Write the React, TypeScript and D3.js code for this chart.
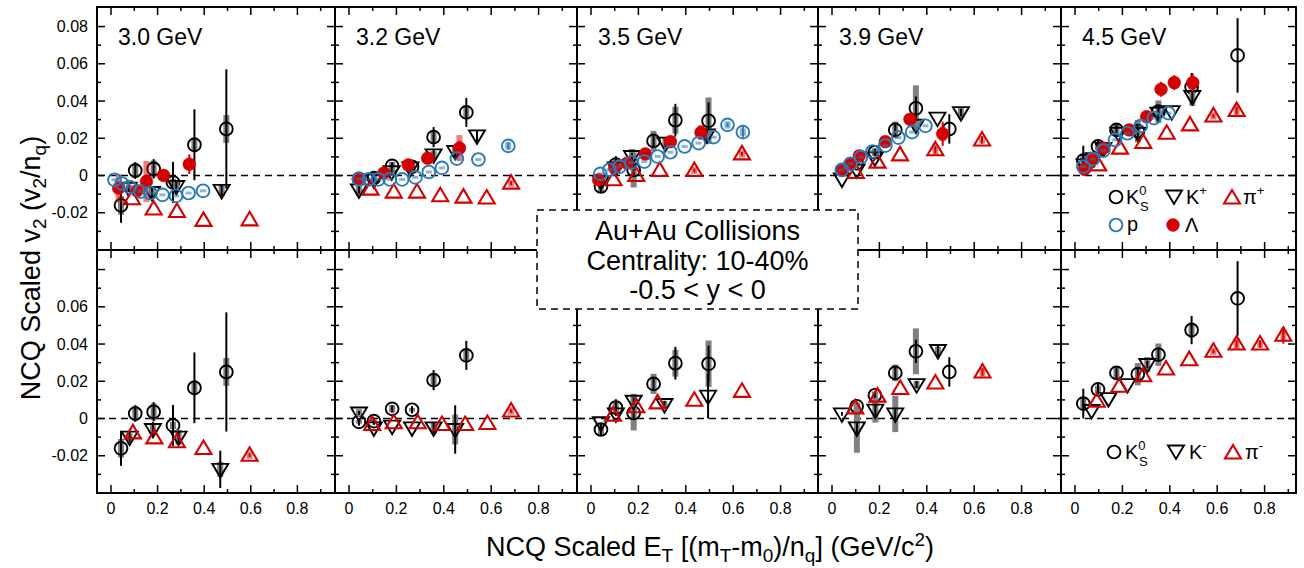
import React from 'react';
import * as d3 from 'd3';

type Pt = number[]; // [x, y, stat?, sys?]

const energies = ['3.0 GeV', '3.2 GeV', '3.5 GeV', '3.9 GeV', '4.5 GeV'];
const xTickLabels = [0, 0.2, 0.4, 0.6, 0.8];
const yTickLabelsTop = [-0.02, 0, 0.02, 0.04, 0.06, 0.08];
const yTickLabelsBottom = [-0.02, 0, 0.02, 0.04, 0.06];
const boxLines = ['Au+Au Collisions', 'Centrality: 10-40%', '-0.5 < y < 0'];

// ---- 3.0 GeV ----
const ks_30: Pt[] = [[0.043, -0.016, 0.0094, 0.005], [0.104, 0.0027, 0.0045, 0.004], [0.183, 0.0036, 0.0052, 0.0045], [0.266, -0.0037, 0.011, 0.002], [0.358, 0.0165, 0.019, 0.004], [0.495, 0.025, 0.032, 0.0075]];
const kp_30: Pt[] = [[0.076, -0.0068, 0.002, 0.002], [0.176, -0.0091, 0.003, 0.003], [0.28, -0.0059, 0.003, 0.003], [0.475, -0.008, 0.003, 0.003]];
const pip_30: Pt[] = [[0.09, -0.0125], [0.183, -0.018], [0.283, -0.0193], [0.397, -0.0241], [0.595, -0.0238]];
const lam_30: Pt[] = [[0.033, -0.0068, 0.002, 0.0075], [0.112, -0.0082, 0.002, 0.002], [0.152, -0.0032, 0.002, 0.011], [0.226, 0.0, 0.002, 0.002], [0.336, 0.0061, 0.0053, 0.002]];
const p_30: Pt[] = [[0.015, -0.0023], [0.047, -0.0043], [0.08, -0.0062], [0.126, -0.0086], [0.169, -0.0094], [0.221, -0.0104], [0.279, -0.0109], [0.333, -0.0094], [0.395, -0.0082]];
const km_30: Pt[] = [[0.08, -0.01, 0.003, 0.002], [0.18, -0.0059, 0.004, 0.003], [0.29, -0.01, 0.003, 0.004], [0.469, -0.0273, 0.01, 0.004]];
const pim_30: Pt[] = [[0.094, -0.0077], [0.186, -0.0104], [0.283, -0.0125], [0.397, -0.0161], [0.595, -0.0197, 0.001, 0.002]];

// ---- 3.2 GeV ----
const ks_32: Pt[] = [[0.042, -0.0018, 0.002, 0.001], [0.105, -0.0014, 0.002, 0.001], [0.182, 0.0052, 0.002, 0.002], [0.266, 0.0047, 0.002, 0.001], [0.357, 0.0206, 0.0054, 0.003], [0.495, 0.0339, 0.0078, 0.0036]];
const kp_32: Pt[] = [[0.042, -0.0077, 0.002, 0.003], [0.105, -0.0023, 0.002, 0.002], [0.18, 0.002, 0.002, 0.002], [0.259, 0.004, 0.002, 0.003], [0.357, 0.0111, 0.003, 0.002], [0.448, 0.0129, 0.004, 0.003], [0.54, 0.0213, 0.003, 0.0]];
const pip_32: Pt[] = [[0.091, -0.0073], [0.189, -0.0089], [0.287, -0.0089], [0.385, -0.0109], [0.483, -0.0116], [0.581, -0.0121], [0.684, -0.0041, 0.001, 0.002]];
const lam_32: Pt[] = [[0.046, -0.002], [0.147, 0.0013], [0.25, 0.0057], [0.332, 0.0093], [0.466, 0.0147, 0.004, 0.007]];
const p_32: Pt[] = [[0.042, -0.0019], [0.084, -0.0021], [0.124, -0.0021], [0.172, -0.0021], [0.224, -0.0021], [0.28, -0.001], [0.337, 0.0019], [0.392, 0.0041], [0.455, 0.0091], [0.546, 0.0086], [0.672, 0.0159, 0.002, 0.002]];
const km_32: Pt[] = [[0.042, 0.003, 0.001, 0.002], [0.105, -0.005], [0.182, -0.0041], [0.266, -0.005], [0.357, -0.005, 0.003, 0.003], [0.448, -0.0059, 0.013, 0.008]];
const pim_32: Pt[] = [[0.098, -0.0032], [0.189, -0.0023], [0.29, -0.0023], [0.392, -0.0032], [0.49, -0.0032], [0.584, -0.0027], [0.684, 0.004, 0.001, 0.002]];

// ---- 3.5 GeV ----
const ks_35: Pt[] = [[0.042, -0.0059, 0.003, 0.003], [0.105, 0.0059, 0.0045, 0.003], [0.18, 0.003, 0.003, 0.0094], [0.264, 0.0186, 0.003, 0.0054], [0.356, 0.0297, 0.0088, 0.0072], [0.496, 0.0294, 0.0098, 0.0125]];
const kp_35: Pt[] = [[0.042, -0.0032], [0.105, 0.004], [0.173, 0.0102, 0.002, 0.004], [0.314, 0.0174, 0.002, 0.003], [0.489, 0.0218, 0.003, 0.003]];
const pip_35: Pt[] = [[0.095, -0.0023], [0.191, 0.0], [0.29, 0.0027], [0.436, 0.0027, 0.001, 0.002], [0.637, 0.0116, 0.001, 0.002]];
const lam_35: Pt[] = [[0.032, -0.0023], [0.1, 0.004], [0.152, 0.0066], [0.229, 0.0116], [0.335, 0.0182], [0.464, 0.0231, 0.002, 0.004]];
const p_35: Pt[] = [[0.039, 0.0009], [0.078, 0.0031], [0.121, 0.0048], [0.17, 0.007], [0.225, 0.0075], [0.281, 0.0102], [0.335, 0.0125], [0.395, 0.0156], [0.454, 0.0174], [0.517, 0.0206], [0.576, 0.0272, 0.001, 0.002], [0.641, 0.0233, 0.003, 0.002]];
const km_35: Pt[] = [[0.042, -0.0023], [0.105, 0.0025], [0.18, 0.0093, 0.002, 0.004], [0.31, 0.0075, 0.002, 0.002], [0.494, 0.012, 0.012, 0.0]];
const pim_35: Pt[] = [[0.093, 0.0018], [0.191, 0.0063], [0.281, 0.0084], [0.436, 0.0098], [0.637, 0.0146]];

// ---- 3.9 GeV ----
const ks_39: Pt[] = [[0.104, 0.0066, 0.002, 0.002], [0.181, 0.0125, 0.002, 0.002], [0.267, 0.0245, 0.003, 0.0045], [0.354, 0.0361, 0.0063, 0.0123], [0.495, 0.025, 0.0079, 0.0]];
const kp_39: Pt[] = [[0.042, -0.0019], [0.104, 0.003], [0.181, 0.0095], [0.354, 0.027], [0.445, 0.0308], [0.544, 0.0338, 0.002, 0.003]];
const pip_39: Pt[] = [[0.101, 0.0016], [0.192, 0.0072], [0.287, 0.0111], [0.436, 0.0138, 0.002, 0.003], [0.633, 0.0191, 0.002, 0.002]];
const lam_39: Pt[] = [[0.04, 0.003], [0.08, 0.0063], [0.115, 0.0106], [0.225, 0.0182], [0.329, 0.0302], [0.467, 0.0224, 0.0065, 0.004]];
const p_39: Pt[] = [[0.042, 0.003], [0.078, 0.0063], [0.122, 0.0099], [0.171, 0.0129], [0.225, 0.0161], [0.28, 0.0204], [0.338, 0.0233], [0.394, 0.0267]];
const km_39: Pt[] = [[0.042, 0.0025, 0.001, 0.0], [0.105, -0.005, 0.003, 0.0134], [0.183, 0.0045, 0.003, 0.0067], [0.267, 0.0025, 0.003, 0.0098], [0.357, 0.0182, 0.002, 0.002], [0.447, 0.0365, 0.003, 0.002]];
const pim_39: Pt[] = [[0.098, 0.0057], [0.192, 0.012], [0.288, 0.0161], [0.436, 0.0191], [0.635, 0.025, 0.002, 0.0025]];

// ---- 4.5 GeV ----
const ks_45: Pt[] = [[0.035, 0.008, 0.008, 0.003], [0.097, 0.0156, 0.003, 0.002], [0.175, 0.0245, 0.003, 0.003], [0.265, 0.0238, 0.003, 0.006], [0.352, 0.0343, 0.003, 0.006], [0.492, 0.0475, 0.0076, 0.004], [0.686, 0.0645, 0.02, 0.0]];
const kp_45: Pt[] = [[0.04, 0.0057], [0.08, 0.009], [0.12, 0.0145], [0.183, 0.0227], [0.267, 0.0227], [0.352, 0.0335], [0.408, 0.0343], [0.495, 0.0424, 0.003, 0.005]];
const pip_45: Pt[] = [[0.098, 0.0057], [0.19, 0.0147], [0.288, 0.0177], [0.387, 0.0227], [0.485, 0.0272], [0.584, 0.032, 0.001, 0.002], [0.682, 0.0349, 0.002, 0.003]];
const lam_45: Pt[] = [[0.04, 0.0034], [0.073, 0.0093], [0.12, 0.0147], [0.229, 0.0245], [0.302, 0.0316], [0.363, 0.0463, 0.004, 0.003], [0.419, 0.0499, 0.004, 0.003], [0.497, 0.0499, 0.005, 0.003]];
const p_45: Pt[] = [[0.035, 0.0048], [0.075, 0.0088], [0.12, 0.0134], [0.169, 0.0191], [0.221, 0.0227], [0.277, 0.0266], [0.333, 0.0308], [0.394, 0.0335]];
const km_45: Pt[] = [[0.07, 0.0043], [0.141, 0.0107], [0.221, 0.0182], [0.305, 0.029, 0.002, 0.004]];
const pim_45: Pt[] = [[0.092, 0.0093], [0.187, 0.0173], [0.288, 0.023], [0.384, 0.0266], [0.482, 0.0316], [0.584, 0.0361, 0.001, 0.002], [0.682, 0.04, 0.002, 0.003], [0.781, 0.04, 0.002, 0.002], [0.879, 0.0447, 0.0045, 0.003]];

const ksAll = [ks_30, ks_32, ks_35, ks_39, ks_45];
const kpAll = [kp_30, kp_32, kp_35, kp_39, kp_45];
const pipAll = [pip_30, pip_32, pip_35, pip_39, pip_45];
const lamAll = [lam_30, lam_32, lam_35, lam_39, lam_45];
const pAll = [p_30, p_32, p_35, p_39, p_45];
const kmAll = [km_30, km_32, km_35, km_39, km_45];
const pimAll = [pim_30, pim_32, pim_35, pim_39, pim_45];

// ---- layout (not data) ----
const panelL = [97, 335, 577, 818, 1061];
const panelR = [335, 577, 818, 1061, 1296];
const pxPerUnit = [233, 237, 237, 237, 237];
const rowTop = [7, 250];
const rowBot = [250, 493];
const Y_DOMAIN = [-0.04, 0.0905];

const RED = '#d40000';
const BLUE = '#2a7ab8';
const GRAY = '#808080';
const FONT = '"Liberation Sans", Arial, Helvetica, sans-serif';

type Kind = 'ks' | 'kd' | 'pi' | 'lam' | 'p';
const defaultSys: Record<Kind, number> = { ks: 0.0012, kd: 0, pi: 0, lam: 0, p: 0.0008 };
const defaultStat: Record<Kind, number> = { ks: 0.001, kd: 0, pi: 0, lam: 0, p: 0 };

function Marker({ kind, x, y }: { kind: Kind; x: number; y: number }) {
  if (kind === 'ks') return <circle cx={x} cy={y} r={6.4} fill="none" stroke="#000" strokeWidth={1.9} />;
  if (kind === 'p') return <circle cx={x} cy={y} r={6.4} fill="none" stroke={BLUE} strokeWidth={1.9} />;
  if (kind === 'lam') return <circle cx={x} cy={y} r={6.4} fill={RED} stroke={RED} strokeWidth={0.5} />;
  if (kind === 'kd')
    return <path d={`M${x - 8},${y - 5.5}L${x + 8},${y - 5.5}L${x},${y + 8}Z`} fill="none" stroke="#000" strokeWidth={1.9} strokeLinejoin="miter" />;
  return <path d={`M${x - 8},${y + 5.5}L${x + 8},${y + 5.5}L${x},${y - 8}Z`} fill="none" stroke={RED} strokeWidth={2.1} strokeLinejoin="miter" />;
}

function Series({ data, kind, xs, ys }: { data: Pt[]; kind: Kind; xs: d3.ScaleLinear<number, number>; ys: d3.ScaleLinear<number, number> }) {
  const sysFill = kind === 'ks' || kind === 'kd' ? GRAY : kind === 'p' ? 'rgba(42,122,184,0.55)' : 'rgba(212,0,0,0.5)';
  const statColor = kind === 'ks' || kind === 'kd' ? '#000' : kind === 'p' ? BLUE : RED;
  return (
    <g>
      {data.map((d, i) => {
        const x = xs(d[0]);
        const y = ys(d[1]);
        const stat = d[2] ?? defaultStat[kind];
        const sys = d[3] ?? defaultSys[kind];
        return (
          <g key={i}>
            {sys > 0 && <rect x={x - 3} y={ys(d[1] + sys)} width={6} height={ys(d[1] - sys) - ys(d[1] + sys)} fill={sysFill} />}
            {stat > 0 && <line x1={x} x2={x} y1={ys(d[1] + stat)} y2={ys(d[1] - stat)} stroke={statColor} strokeWidth={2} />}
            <Marker kind={kind} x={x} y={y} />
          </g>
        );
      })}
    </g>
  );
}

function Frame({ L, R, T, B, xs, ys }: any) {
  const ticks: JSX.Element[] = [];
  const xt = d3.range(0, 0.96, 0.1).filter((v) => xs(v) < R - 1);
  xt.forEach((v, i) => {
    const major = i % 2 === 0;
    const len = major ? 8 : 4;
    const x = xs(v);
    ticks.push(<line key={'xb' + i} x1={x} x2={x} y1={B} y2={B - len} stroke="#000" strokeWidth={1.5} />);
    ticks.push(<line key={'xt' + i} x1={x} x2={x} y1={T} y2={T + len} stroke="#000" strokeWidth={1.5} />);
  });
  const yt = d3.range(-3, 10).map((k) => k * 0.01).filter((v) => ys(v) < B - 1 && ys(v) > T + 1);
  yt.forEach((v, i) => {
    const major = Math.round(v * 100) % 2 === 0;
    const len = major ? 8 : 4;
    const y = ys(v);
    ticks.push(<line key={'yl' + i} x1={L} x2={L + len} y1={y} y2={y} stroke="#000" strokeWidth={1.5} />);
    ticks.push(<line key={'yr' + i} x1={R} x2={R - len} y1={y} y2={y} stroke="#000" strokeWidth={1.5} />);
  });
  return (
    <g>
      <line x1={L} x2={R} y1={ys(0)} y2={ys(0)} stroke="#000" strokeWidth={1.5} strokeDasharray="7,5" />
      {ticks}
    </g>
  );
}

export default function App() {
  const panels: JSX.Element[] = [];
  const borders: JSX.Element[] = [];
  for (let row = 0; row < 2; row++) {
    for (let c = 0; c < 5; c++) {
      const L = panelL[c];
      const R = panelR[c];
      const w = R - L;
      const k = pxPerUnit[c];
      const T = rowTop[row];
      const B = rowBot[row];
      const xs = d3.scaleLinear().domain([-14 / k, (w - 14) / k]).range([L, R]);
      const ys = d3.scaleLinear().domain(Y_DOMAIN).range([B, T]);
      panels.push(
        <g key={`p${row}${c}`}>
          <Frame L={L} R={R} T={T} B={B} xs={xs} ys={ys} />
          <Series data={ksAll[c]} kind="ks" xs={xs} ys={ys} />
          <Series data={row === 0 ? kpAll[c] : kmAll[c]} kind="kd" xs={xs} ys={ys} />
          <Series data={row === 0 ? pipAll[c] : pimAll[c]} kind="pi" xs={xs} ys={ys} />
          {row === 0 && <Series data={lamAll[c]} kind="lam" xs={xs} ys={ys} />}
          {row === 0 && <Series data={pAll[c]} kind="p" xs={xs} ys={ys} />}
          {row === 0 && (
            <text x={L + 21} y={45} fontSize={23} fontFamily={FONT}>{energies[c]}</text>
          )}
          {row === 1 &&
            xTickLabels.map((v) => (
              <text key={v} x={xs(v)} y={514} fontSize={16} fontFamily={FONT} textAnchor="middle">{v === 0 ? '0' : String(v)}</text>
            ))}
          {c === 0 &&
            (row === 0 ? yTickLabelsTop : yTickLabelsBottom).map((v) => (
              <text key={v} x={88} y={ys(v) + 5.5} fontSize={16} fontFamily={FONT} textAnchor="end">{v === 0 ? '0' : String(v)}</text>
            ))}
        </g>
      );
      borders.push(<rect key={`b${row}${c}`} x={L} y={T} width={w} height={B - T} fill="none" stroke="#000" strokeWidth={2} />);
    }
  }

  return (
    <svg width={1304} height={568} style={{ display: 'block', position: 'absolute', left: 0, top: 0, background: '#fff' }}>
      <rect x={0} y={0} width={1304} height={568} fill="#fff" />
      {panels}
      {borders}
      {/* info box */}
      <rect x={537} y={210} width={321} height={99} fill="#fff" stroke="#000" strokeWidth={1.5} strokeDasharray="7,5" />
      {boxLines.map((t, i) => (
        <text key={i} x={697.5} y={240 + i * 29.5} fontSize={27} fontFamily={FONT} textAnchor="middle">{t}</text>
      ))}
      {/* legend top */}
      <g fontFamily={FONT} fontSize={20}>
        <Marker kind="ks" x={1116} y={197} />
        <text x={1126} y={204}>K<tspan fontSize={13} dy={-9}>0</tspan><tspan fontSize={13} x={1140} dy={16}>S</tspan></text>
        <Marker kind="kd" x={1174} y={196} />
        <text x={1186} y={204}>K<tspan fontSize={13} dy={-9}>+</tspan></text>
        <Marker kind="pi" x={1232} y={198} />
        <text x={1243} y={204}>π<tspan fontSize={13} dy={-9}>+</tspan></text>
        <Marker kind="p" x={1116} y={225} />
        <text x={1127} y={231}>p</text>
        <Marker kind="lam" x={1173} y={225} />
        <text x={1185} y={232}>Λ</text>
      </g>
      {/* legend bottom */}
      <g fontFamily={FONT} fontSize={20}>
        <Marker kind="ks" x={1114} y={452} />
        <text x={1125} y={459}>K<tspan fontSize={13} dy={-9}>0</tspan><tspan fontSize={13} x={1139} dy={16}>S</tspan></text>
        <Marker kind="kd" x={1176} y={451} />
        <text x={1189} y={459}>K<tspan fontSize={13} dy={-9}>-</tspan></text>
        <Marker kind="pi" x={1233} y={453} />
        <text x={1245} y={459}>π<tspan fontSize={13} dy={-9}>-</tspan></text>
      </g>
      {/* axis titles */}
      <text transform="translate(40,268) rotate(-90)" fontSize={27} fontFamily={FONT} textAnchor="middle">
        NCQ Scaled v<tspan fontSize={19} dy={6}>2</tspan><tspan dy={-6}> (v</tspan><tspan fontSize={19} dy={6}>2</tspan><tspan dy={-6}>/n</tspan><tspan fontSize={19} dy={6}>q</tspan><tspan dy={-6}>)</tspan>
      </text>
      <text x={710} y={556} fontSize={27} fontFamily={FONT} textAnchor="middle">
        NCQ Scaled E<tspan fontSize={19} dy={6}>T</tspan><tspan dy={-6}> [(m</tspan><tspan fontSize={19} dy={6}>T</tspan><tspan dy={-6}>-m</tspan><tspan fontSize={19} dy={6}>0</tspan><tspan dy={-6}>)/n</tspan><tspan fontSize={19} dy={6}>q</tspan><tspan dy={-6}>] (GeV/c</tspan><tspan fontSize={19} dy={-10}>2</tspan><tspan dy={10}>)</tspan>
      </text>
    </svg>
  );
}
